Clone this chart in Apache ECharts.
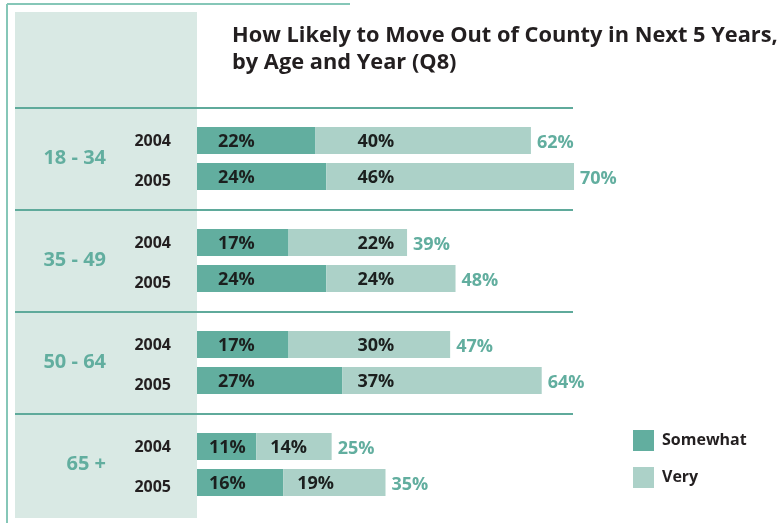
<!DOCTYPE html>
<html>
<head>
<meta charset="utf-8">
<title>Move out of county</title>
<script src="https://cdn.jsdelivr.net/npm/echarts@6/dist/echarts.min.js"></script>
<style>
  html, body { margin: 0; padding: 0; background: #fff; }
  #main { width: 781px; height: 523px; }
</style>
</head>
<body>
<div id="main"></div>
<script>
// values
var ages = ['18 - 34', '35 - 49', '50 - 64', '65 +'];
var years = ['2004', '2005'];
var somewhat2004 = [22, 17, 17, 11];
var very2004 = [40, 22, 30, 14];
var total2004 = [62, 39, 47, 25];
var somewhat2005 = [24, 24, 27, 16];
var very2005 = [46, 24, 37, 19];
var total2005 = [70, 48, 64, 35];

var FONT = '"Open Sans", "Noto Sans", sans-serif';
var DARK = '#62ae9f';
var LIGHT = '#acd1c8';
var LINE = '#5faa9b';

var chart = echarts.init(document.getElementById('main'));

// bar grid: 0..100 over this width
var gridW = 538.6;
var xMax = 100;
var pxPer = gridW / xMax;

function zeros(n) {
  var a = [];
  for (var i = 0; i < n; i++) a.push(0);
  return a;
}

function somewhatData(vals, totals) {
  return vals.map(function (v, i) {
    return { value: v, label: { distance: totals[i] < 36 ? 12 : 21 } };
  });
}

// "Very" labels sit at a common column unless the bar is too short
function veryData(vals, base, totals) {
  return vals.map(function (v, i) {
    var d = totals[i] < 36 ? 14 : Math.max(14, (29.8 - base[i]) * pxPer);
    return { value: v, label: { distance: d } };
  });
}

function yearSeries(year, somewhat, very, totals, dy) {
  return [
    {
      name: 'label' + year, type: 'bar', stack: year, barWidth: 27,
      data: zeros(ages.length), silent: true,
      itemStyle: { color: 'transparent' },
      label: {
        show: true, position: 'left', distance: 26, offset: [0, dy],
        formatter: function () { return year; },
        fontFamily: FONT, fontSize: 16, fontWeight: 'bold', color: '#231f20',
        textShadowColor: 'rgba(205,165,50,0.55)', textShadowOffsetX: -1, textShadowBlur: 0
      }
    },
    {
      name: 'Somewhat', type: 'bar', stack: year, barWidth: 27,
      data: somewhatData(somewhat, totals),
      itemStyle: { color: DARK },
      label: {
        show: true, position: 'insideLeft', formatter: '{c}%', offset: [0, 1],
        fontFamily: FONT, fontSize: 18, fontWeight: 'bold', color: '#1b1f1e'
      }
    },
    {
      name: 'Very', type: 'bar', stack: year, barWidth: 27, barGap: '33.3%',
      data: veryData(very, somewhat, totals),
      itemStyle: { color: LIGHT },
      label: {
        show: true, position: 'insideLeft', formatter: '{c}%', offset: [0, 1],
        fontFamily: FONT, fontSize: 18, fontWeight: 'bold', color: '#1b1f1e'
      }
    },
    {
      name: 'total' + year, type: 'bar', stack: year, barWidth: 27,
      data: zeros(ages.length), silent: true,
      itemStyle: { color: 'transparent' },
      label: {
        show: true, position: 'right', distance: 6, offset: [0, 2],
        formatter: function (p) { return totals[p.dataIndex] + '%'; },
        fontFamily: FONT, fontSize: 18, fontWeight: 'bold', color: DARK
      }
    }
  ];
}

var option = {
  animation: false,
  title: {
    text: 'How Likely to Move Out of County in Next 5 Years,\nby Age and Year (Q8)',
    left: 232, top: 22, padding: 0,
    textStyle: { fontFamily: FONT, fontSize: 21.8, fontWeight: 'bold', lineHeight: 27, color: '#231f20' }
  },
  legend: {
    data: ['Somewhat', 'Very'],
    orient: 'vertical', left: 633, top: 430, padding: 0,
    itemWidth: 21, itemHeight: 21, itemGap: 16, icon: 'rect',
    selectedMode: false,
    textStyle: { fontFamily: FONT, fontSize: 16, fontWeight: 'bold', color: '#231f20', padding: [2, 0, 0, 3] }
  },
  graphic: [
    { type: 'rect', z: -10, shape: { x: 15, y: 12, width: 182, height: 506 }, style: { fill: '#d9e9e4' } },
    { type: 'line', z: -5, shape: { x1: 7, y1: 4, x2: 350, y2: 4 }, style: { stroke: '#86c7b8', lineWidth: 2 } },
    { type: 'line', z: -5, shape: { x1: 7, y1: 4, x2: 7, y2: 523 }, style: { stroke: '#86c7b8', lineWidth: 2 } }
  ],
  grid: [
    { left: 197, top: 107.5, width: gridW, height: 408 },
    { left: 15, top: 107.5, width: 558, height: 408 }
  ],
  xAxis: [
    { gridIndex: 0, type: 'value', min: 0, max: xMax, show: false },
    { gridIndex: 1, type: 'value', min: 0, max: 1, show: false }
  ],
  yAxis: [
    { gridIndex: 0, type: 'category', data: ages, inverse: true, show: false },
    {
      gridIndex: 1, type: 'category', data: ages, inverse: true,
      position: 'left', offset: -91,
      axisLine: { show: false }, axisTick: { show: false },
      axisLabel: {
        margin: 0, align: 'right',
        fontFamily: FONT, fontSize: 20, fontWeight: 'bold', color: '#62ae9f'
      },
      splitLine: {
        show: true,
        lineStyle: { width: 2, color: [LINE, LINE, LINE, LINE, 'rgba(0,0,0,0)'] }
      }
    }
  ],
  series: [].concat(
    yearSeries(years[0], somewhat2004, very2004, total2004, 1),
    yearSeries(years[1], somewhat2005, very2005, total2005, 5)
  )
};

chart.setOption(option);
</script>
</body>
</html>
